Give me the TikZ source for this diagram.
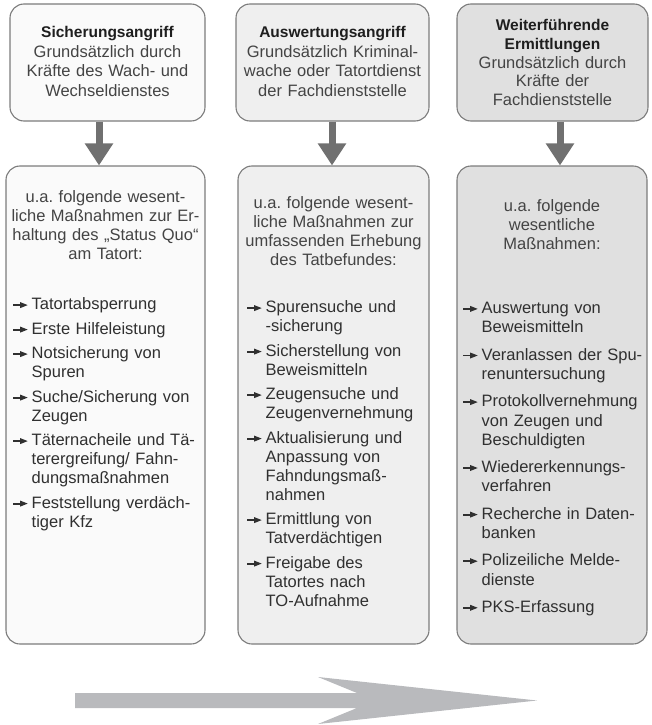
\documentclass[tikz,border=0pt]{standalone}
\usepackage{fontspec}
\setmainfont{Liberation Sans}
\usetikzlibrary{arrows.meta}
\frenchspacing

\definecolor{edge}{HTML}{7C7C7C}
\definecolor{fillA}{HTML}{FAFAFA}
\definecolor{fillB}{HTML}{EFEFEF}
\definecolor{fillC}{HTML}{E0E0E0}
\definecolor{flow}{HTML}{707070}
\definecolor{timeline}{HTML}{B9BABD}
\definecolor{titletext}{HTML}{1E1E1E}
\definecolor{bodytext}{HTML}{444444}
\definecolor{listtext}{HTML}{303030}

% small bold arrow used as list bullet
\newcommand{\bulletarrow}{\tikz[x=1pt, y=1pt, baseline=0pt]{%
  \fill[listtext] (0,3.7) rectangle (8.5,5.5);
  \fill[listtext] (7,1.6) -- (14.5,4.6) -- (7,7.6) -- cycle;}}

% one arrow-bulleted entry with hanging indent
\newcommand{\entry}[1]{\par\hangindent=18.5pt\hangafter=1\noindent
  \makebox[18.5pt][l]{\bulletarrow}#1\par}

\tikzset{
  phasebox/.style={draw=edge, line width=1.1pt, rounded corners=14pt, inner sep=0pt},
  headtext/.style={align=center, text=bodytext, inner sep=0pt,
    font=\fontsize{16.5}{19.5}\selectfont},
  listtext/.style={align=left, text=listtext, inner sep=0pt,
    font=\fontsize{16.5}{19}\selectfont\setlength{\parskip}{5.5pt}},
  flowarrow/.style={draw=flow, line width=7pt,
    -{Triangle[length=22pt, width=27pt]}},
}

\begin{document}
\begin{tikzpicture}[x=1pt, y=-1pt]
\useasboundingbox (0,0) rectangle (651,725);

% upper row: the three phases
\node[phasebox, fill=fillA, minimum width=195pt, minimum height=117pt] (top1) at (107.5,62.5) {};
\node[phasebox, fill=fillB, minimum width=193pt, minimum height=117pt] (top2) at (332.5,62.5) {};
\node[phasebox, fill=fillC, minimum width=191pt, minimum height=117pt] (top3) at (552.5,62.5) {};

\node[headtext, text width=192pt] (top1t) at ([yshift=1pt]top1.center)
  {\textcolor{titletext}{\fontsize{15.5}{19.5}\selectfont\bfseries Sicherungsangriff}\\Grundsätzlich durch\\Kräfte des Wach- und\\Wechseldienstes};
\node[headtext, text width=190pt] (top2t) at ([yshift=1pt]top2.center)
  {\textcolor{titletext}{\fontsize{15.5}{19.5}\selectfont\bfseries Auswertungsangriff}\\Grundsätzlich Kriminal-\\wache oder Tatortdienst\\der Fachdienststelle};
\node[headtext, text width=188pt, font=\fontsize{16.5}{18.8}\selectfont] (top3t) at (top3.center)
  {\textcolor{titletext}{\fontsize{15.5}{18.8}\selectfont\bfseries Weiterführende\\Ermittlungen}\\Grundsätzlich durch\\Kräfte der\\Fachdienststelle};

% lower row: the measures of each phase
\node[phasebox, fill=fillA, minimum width=199pt, minimum height=478pt] (low1) at (105.5,405) {};
\node[phasebox, fill=fillB, minimum width=191pt, minimum height=478pt] (low2) at (333.5,405) {};
\node[phasebox, fill=fillC, minimum width=190pt, minimum height=478pt] (low3) at (552,405) {};

\node[headtext, anchor=north, text width=196pt, font=\fontsize{16.5}{19}\selectfont] (low1h) at (105.5,190)
  {u.a. folgende wesent-\\liche Maßnahmen zur Er-\\haltung des „Status Quo“\\am Tatort:};
\node[headtext, anchor=north, text width=188pt, font=\fontsize{16.5}{19}\selectfont] (low2h) at (333.5,196)
  {u.a. folgende wesent-\\liche Maßnahmen zur\\umfassenden Erhebung\\des Tatbefundes:};
\node[headtext, anchor=north, text width=186pt, font=\fontsize{16.5}{19}\selectfont] (low3h) at (552,199)
  {u.a. folgende\\wesentliche\\Maßnahmen:};

\node[listtext, anchor=north west, text width=190pt] (low1l) at (13,285) {%
  \entry{Tatortabsperrung}
  \entry{Erste Hilfeleistung}
  \entry{Notsicherung von\newline Spuren}
  \entry{Suche/Sicherung von\newline Zeugen}
  \entry{Täternacheile und Tä-\newline terergreifung/ Fahn-\newline dungsmaßnahmen}
  \entry{Feststellung verdäch-\newline tiger Kfz}};

\node[listtext, anchor=north west, text width=182pt] (low2l) at (247,288) {%
  \entry{Spurensuche und\newline -sicherung}
  \entry{Sicherstellung von\newline Beweismitteln}
  \entry{Zeugensuche und\newline Zeugenvernehmung}
  \entry{Aktualisierung und\newline Anpassung von\newline Fahndungsmaß-\newline nahmen}
  \entry{Ermittlung von\newline Tatverdächtigen}
  \entry{Freigabe des\newline Tatortes nach\newline TO-Aufnahme}};

\node[listtext, anchor=north west, text width=182pt,
      font=\fontsize{16.5}{19.3}\selectfont\setlength{\parskip}{8pt}] (low3l) at (463,286) {%
  \entry{Auswertung von\newline Beweismitteln}
  \entry{Veranlassen der Spu-\newline renuntersuchung}
  \entry{Protokollvernehmung\newline von Zeugen und\newline Beschuldigten}
  \entry{Wiedererkennungs-\newline verfahren}
  \entry{Recherche in Daten-\newline banken}
  \entry{Polizeiliche Melde-\newline dienste}
  \entry{PKS-Erfassung}};

% connectors from each phase to its measures
\draw[flowarrow] ([xshift=-8.5pt]top1.south) -- ([xshift=-6.5pt]low1.north);
\draw[flowarrow] ([xshift=-0.5pt]top2.south) -- ([xshift=-1.5pt]low2.north);
\draw[flowarrow] ([xshift=7.5pt]top3.south) -- ([xshift=8pt]low3.north);

% time axis below the columns
\fill[timeline] (75,693) -- (357,693) -- (318,677) -- (537,700.5)
  -- (318,724) -- (357,708) -- (75,708) -- cycle;
\end{tikzpicture}
\end{document}
